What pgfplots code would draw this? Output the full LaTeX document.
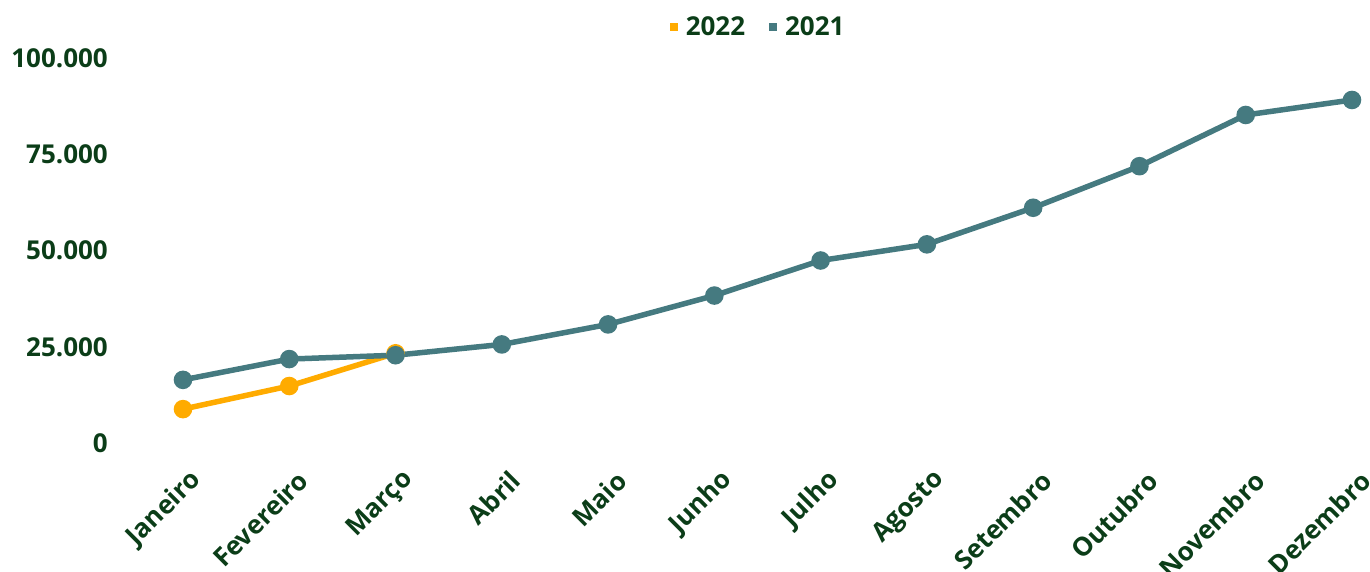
\documentclass[border=0pt]{standalone}
\usepackage{fontspec}
\setmainfont{Open Sans}
\usepackage{pgfplots}
\pgfplotsset{compat=1.18}
\definecolor{txtgreen}{HTML}{0B3D18}
\definecolor{teal21}{HTML}{457A80}
\definecolor{orange22}{HTML}{FFAB00}
\begin{document}
\begin{tikzpicture}
\useasboundingbox (-183pt,-129pt) rectangle (1187pt,443pt);
\begin{axis}[
  at={(0pt,0pt)}, anchor=south west,
  scale only axis, width=1169pt, height=385pt,
  xmin=0, xmax=11, ymin=0, ymax=100000,
  axis line style={draw=none},
  major tick length=0pt,
  xtick={0,...,11},
  xticklabels={Janeiro,Fevereiro,Março,Abril,Maio,Junho,Julho,Agosto,Setembro,Outubro,Novembro,Dezembro},
  ytick={0,25000,50000,75000,100000},
  yticklabels={0,25.000,50.000,75.000,100.000},
  scaled y ticks=false,
  tick label style={font=\fontsize{26}{30}\selectfont\bfseries, text=txtgreen},
  yticklabel style={anchor=east, inner sep=0pt, xshift=-75pt},
  xticklabel style={inner sep=0pt, xshift=14pt, yshift=-33pt, rotate=45, anchor=east},
  clip=false,
  legend columns=2,
  legend style={at={(rel axis cs:0.492,1.08)}, anchor=center, draw=none, fill=none,
    font=\fontsize{26}{30}\selectfont\bfseries, text=txtgreen,
    /tikz/every even column/.append style={column sep=22pt}},
  legend image code/.code={\fill[#1, draw=none] (0pt,-4pt) rectangle (8pt,4pt);\path[draw=none,fill=none] (0pt,0pt) rectangle (14pt,0.1pt);},
]
\addplot[color=orange22, line width=5.5pt, mark=*, mark size=6.5pt, mark options={solid, draw=none, fill=orange22}] coordinates {
(0,8800) (1,14800) (2,23300)
};
\addlegendentry{2022}
\addplot[color=teal21, line width=5.5pt, mark=*, mark size=6.5pt, mark options={solid, draw=none, fill=teal21}] coordinates {
(0,16400) (1,21800) (2,22800) (3,25600) (4,30800) (5,38300) (6,47400) (7,51600) (8,61100) (9,71900) (10,85200) (11,89100)
};
\addlegendentry{2021}
\end{axis}
\end{tikzpicture}
\end{document}
